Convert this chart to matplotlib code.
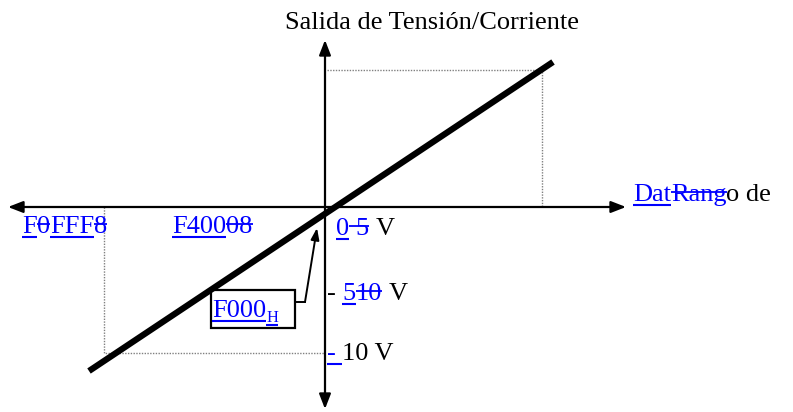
import matplotlib
matplotlib.use("Agg")
import matplotlib.pyplot as plt
from matplotlib.patches import Rectangle

# diagram geometry, in picture pixels (x to the right, y downwards)
origin = (325, 207)
h_axis_x = [8, 626]
v_axis_y = [40, 409]
transfer_x = [89, 553]
transfer_y = [371, 62]
guide_top_x = [327, 542, 542]
guide_top_y = [70, 70, 207]
guide_bot_x = [104, 104, 325]
guide_bot_y = [207, 353, 353]

# labels: (text, style) with u = inserted (underlined), s = deleted (struck), n = plain
title = "Salida de Tensión/Corriente"
x_axis_label = [("Dat", "u"), ("Rang", "s"), ("o de", "n")]
lbl_min = [("F", "u"), ("0", "s"), ("FFF", "u"), ("8", "s")]
lbl_mid = [("F400", "u"), ("08", "s")]
lbl_zero = [("0", "u"), (" 5", "s"), (" V", "n")]
lbl_m5 = [("- ", "n"), ("5", "u"), ("10", "s"), (" V", "n")]
lbl_m10 = [("- ", "u"), ("10 V", "n")]
callout = "F000"
callout_sub = "H"

BLUE = "#0000ff"
FS = 19
DPI = 100

plt.rcParams["font.family"] = ["Liberation Serif", "DejaVu Serif"]

fig = plt.figure(figsize=(7.93, 4.12), dpi=DPI)
ax = fig.add_axes([0, 0, 1, 1])
ax.set_xlim(0, 793)
ax.set_ylim(412, 0)
ax.axis("off")
renderer = fig.canvas.get_renderer()


def rich_text(x, y, segs, fs=FS):
    """Draw word-style tracked-change text, segment by segment, baseline at y."""
    em = fs * DPI / 72.0
    sp = 0.25 * em
    for txt, style in segs:
        color = "black" if style == "n" else BLUE
        x0 = x
        core = txt.strip(" ")
        lead = len(txt) - len(txt.lstrip(" "))
        trail = len(txt) - len(txt.rstrip(" "))
        x += lead * sp
        if core:
            t = ax.text(x, y, core, fontsize=fs, color=color, va="baseline", ha="left")
            x += t.get_window_extent(renderer).width
        x += trail * sp
        if style == "u":
            uy = y + 0.17 * em
            ax.plot([x0, x], [uy, uy], color=BLUE, lw=1.5, solid_capstyle="butt")
        elif style == "s":
            sy = y - 0.33 * em
            ax.plot([x0, x], [sy, sy], color=BLUE, lw=1.3, solid_capstyle="butt")
    return x


# dotted guides
dot = dict(color="#808080", lw=1.0, linestyle=(0, (1, 1)))
ax.plot(guide_top_x, guide_top_y, **dot)
ax.plot(guide_bot_x, guide_bot_y, **dot)

# axes with arrow heads
arw = dict(arrowstyle="-|>,head_length=0.9,head_width=0.35", color="black", lw=1.6,
           shrinkA=0, shrinkB=0)
ax.annotate("", xy=(h_axis_x[1], origin[1]), xytext=(origin[0], origin[1]), arrowprops=arw)
ax.annotate("", xy=(h_axis_x[0], origin[1]), xytext=(origin[0], origin[1]), arrowprops=arw)
ax.annotate("", xy=(origin[0], v_axis_y[0]), xytext=(origin[0], origin[1]), arrowprops=arw)
ax.annotate("", xy=(origin[0], v_axis_y[1]), xytext=(origin[0], origin[1]), arrowprops=arw)

# transfer characteristic
ax.plot(transfer_x, transfer_y, color="black", lw=4.5, solid_capstyle="butt")

# title over the vertical axis
ax.text(432, 29, title, fontsize=FS, ha="center", va="baseline")

# labels
rich_text(633, 201, x_axis_label)
rich_text(22, 233, lbl_min)
rich_text(172, 233, lbl_mid)
rich_text(336, 235, lbl_zero)
rich_text(327, 300, lbl_m5)
rich_text(327, 360, lbl_m10)

# callout box
ax.add_patch(Rectangle((211, 290), 84, 38, fill=False, ec="black", lw=1.6))
xe = rich_text(212, 317, [(callout, "u")])
rich_text(xe, 322, [(callout_sub, "u")], fs=FS * 0.62)
ax.plot([295, 305], [302, 302], color="black", lw=1.4)
ax.annotate("", xy=(317, 228), xytext=(305, 302),
            arrowprops=dict(arrowstyle="-|>,head_length=0.7,head_width=0.25", color="black",
                            lw=1.4, shrinkA=0, shrinkB=0))

fig.savefig("out.png", dpi=DPI)
